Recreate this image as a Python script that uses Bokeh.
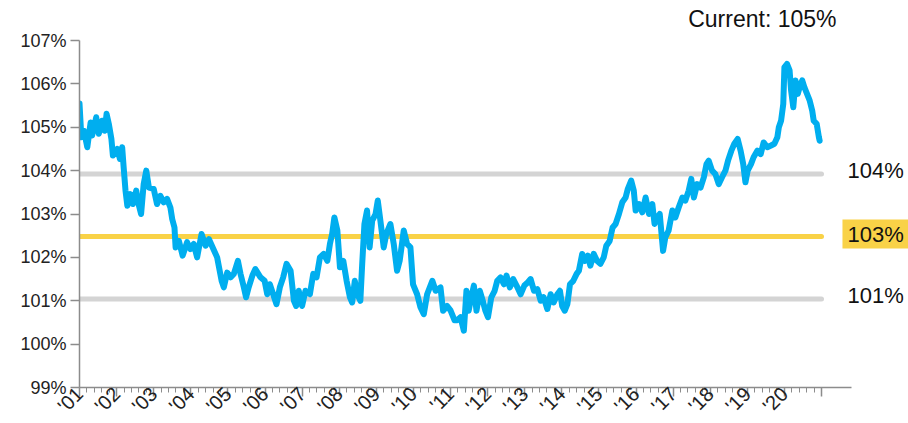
from bokeh.plotting import figure
from bokeh.models import FixedTicker, Label, Range1d
from bokeh.embed import file_html
from bokeh.resources import INLINE

# Series (decimal year, level in %)
t = [2001.00, 2001.05, 2001.12, 2001.21, 2001.30, 2001.34, 2001.45, 2001.52, 2001.61, 2001.68,
     2001.73, 2001.79, 2001.86, 2001.90, 2002.02, 2002.09, 2002.15, 2002.19, 2002.24, 2002.29,
     2002.37, 2002.44, 2002.53, 2002.58, 2002.66, 2002.73, 2002.80, 2002.87, 2003.00, 2003.09,
     2003.18, 2003.27, 2003.36, 2003.45, 2003.50, 2003.56, 2003.59, 2003.68, 2003.78, 2003.90,
     2003.99, 2004.08, 2004.17, 2004.29, 2004.40, 2004.49, 2004.59, 2004.71, 2004.83, 2004.89,
     2004.98, 2005.07, 2005.16, 2005.27, 2005.34, 2005.43, 2005.49, 2005.56, 2005.66, 2005.74,
     2005.87, 2005.99, 2006.06, 2006.13, 2006.22, 2006.31, 2006.40, 2006.49, 2006.58, 2006.69,
     2006.78, 2006.84, 2006.91, 2007.00, 2007.09, 2007.21, 2007.30, 2007.39, 2007.48, 2007.58,
     2007.68, 2007.75, 2007.81, 2007.87, 2007.95, 2008.02, 2008.11, 2008.20, 2008.29, 2008.35,
     2008.42, 2008.49, 2008.57, 2008.62, 2008.68, 2008.75, 2008.82, 2008.89, 2008.98, 2009.04,
     2009.11, 2009.20, 2009.27, 2009.38, 2009.47, 2009.56, 2009.63, 2009.74, 2009.83, 2009.92,
     2009.99, 2010.10, 2010.19, 2010.28, 2010.37, 2010.51, 2010.60, 2010.73, 2010.80, 2010.91,
     2011.00, 2011.11, 2011.18, 2011.27, 2011.36, 2011.43, 2011.49, 2011.56, 2011.63, 2011.70,
     2011.79, 2011.87, 2011.94, 2012.01, 2012.10, 2012.19, 2012.26, 2012.35, 2012.44, 2012.51,
     2012.60, 2012.69, 2012.78, 2012.89, 2012.99, 2013.08, 2013.16, 2013.25, 2013.34, 2013.43,
     2013.51, 2013.61, 2013.70, 2013.78, 2013.88, 2013.95, 2014.01, 2014.08, 2014.15, 2014.22,
     2014.31, 2014.40, 2014.46, 2014.55, 2014.62, 2014.70, 2014.77, 2014.86, 2014.95, 2015.04,
     2015.13, 2015.20, 2015.29, 2015.37, 2015.45, 2015.54, 2015.63, 2015.72, 2015.78, 2015.87,
     2015.94, 2015.99, 2016.08, 2016.17, 2016.26, 2016.35, 2016.44, 2016.50, 2016.57, 2016.64,
     2016.68, 2016.73, 2016.79, 2016.88, 2016.98, 2017.06, 2017.15, 2017.25, 2017.33, 2017.42,
     2017.49, 2017.56, 2017.65, 2017.74, 2017.83, 2017.90, 2017.96, 2018.05, 2018.14, 2018.23,
     2018.32, 2018.41, 2018.48, 2018.57, 2018.65, 2018.74, 2018.82, 2018.89, 2018.95, 2019.01,
     2019.10, 2019.17, 2019.27, 2019.36, 2019.44, 2019.54, 2019.64, 2019.73, 2019.81, 2019.85,
     2019.91, 2019.97, 2020.00, 2020.07, 2020.14, 2020.18, 2020.24, 2020.30, 2020.36, 2020.41,
     2020.48, 2020.54, 2020.61, 2020.68, 2020.75, 2020.79, 2020.87, 2020.93, 2020.95]
v = [105.55, 104.77, 104.92, 104.54, 105.11, 104.81, 105.23, 104.85, 105.15, 104.92,
     105.31, 105.08, 104.73, 104.35, 104.50, 104.27, 104.54, 104.08, 103.54, 103.19,
     103.46, 103.23, 103.54, 103.27, 103.00, 103.69, 104.00, 103.61, 103.58, 103.23,
     103.42, 103.27, 103.35, 103.15, 102.88, 102.69, 102.23, 102.38, 102.04, 102.35,
     102.19, 102.31, 102.00, 102.54, 102.27, 102.42, 102.23, 102.00, 101.46, 101.31,
     101.65, 101.54, 101.62, 101.92, 101.62, 101.31, 101.08, 101.31, 101.58, 101.73,
     101.55, 101.46, 101.15, 101.38, 101.15, 100.92, 101.31, 101.54, 101.85, 101.69,
     101.00, 100.88, 101.23, 100.88, 101.23, 101.15, 101.62, 101.54, 102.00, 102.08,
     101.92, 102.31, 102.54, 102.92, 102.62, 101.77, 101.92, 101.46, 101.08, 100.96,
     101.46, 101.15, 101.00, 101.85, 102.77, 103.08, 102.23, 102.85, 103.00, 103.31,
     102.85, 102.23, 102.54, 102.77, 102.31, 101.69, 101.92, 102.62, 102.31, 102.23,
     101.38, 101.15, 100.85, 100.69, 101.15, 101.46, 101.23, 101.31, 100.77, 100.88,
     100.78, 100.55, 100.55, 100.62, 100.31, 101.23, 100.77, 101.08, 101.35, 100.77,
     101.23, 101.00, 100.77, 100.62, 101.08, 101.23, 101.46, 101.54, 101.38, 101.58,
     101.31, 101.50, 101.35, 101.15, 101.35, 101.42, 101.50, 101.23, 101.27, 101.00,
     101.08, 100.81, 101.15, 100.96, 101.15, 101.23, 100.88, 100.77, 100.92, 101.38,
     101.46, 101.62, 101.69, 102.08, 101.92, 102.04, 101.81, 102.08, 101.92, 101.85,
     102.00, 102.27, 102.38, 102.69, 102.77, 103.00, 103.27, 103.38, 103.58, 103.77,
     103.54, 103.08, 103.23, 103.04, 103.38, 103.00, 103.23, 102.77, 102.92, 103.00,
     102.62, 102.15, 102.46, 102.62, 103.08, 102.92, 103.15, 103.38, 103.31, 103.54,
     103.81, 103.38, 103.69, 103.61, 103.85, 104.15, 104.23, 104.00, 103.92, 103.69,
     103.85, 104.00, 104.23, 104.46, 104.62, 104.73, 104.46, 104.15, 103.73, 104.00,
     104.15, 104.31, 104.46, 104.38, 104.65, 104.54, 104.58, 104.62, 104.77, 105.00,
     105.15, 105.54, 106.38, 106.46, 106.31, 105.85, 105.46, 106.08, 105.77, 105.92,
     106.08, 105.92, 105.77, 105.62, 105.38, 105.15, 105.08, 104.77, 104.69]

# Reference levels (upper band, average, lower band)
band_values = [103.92, 102.48, 101.04]
band_labels = ["104%", "103%", "101%"]
band_colors = ["#D4D4D4", "#F9D247", "#D4D4D4"]
band_start = 2001.0
band_end = 2021.0

current_text = "Current: 105%"

year_ticks = list(range(2001, 2022))
year_labels = ["'01", "'02", "'03", "'04", "'05", "'06", "'07", "'08", "'09", "'10",
               "'11", "'12", "'13", "'14", "'15", "'16", "'17", "'18", "'19", "'20", ""]
y_ticks = [99, 100, 101, 102, 103, 104, 105, 106, 107]
y_labels = ["99%", "100%", "101%", "102%", "103%", "104%", "105%", "106%", "107%"]

FONT = "Liberation Sans"
AXIS_COLOR = "#8C8C8C"
PX_PER_YEAR = 37.1
PX_PER_PCT = 43.33

p = figure(frame_width=829, frame_height=387,
           x_range=Range1d(2001.0, 2023.345), y_range=Range1d(99, 107.923),
           output_backend="svg", toolbar_location=None,
           min_border_left=79, min_border_top=0, min_border_right=0, min_border_bottom=36)
p.outline_line_color = None
p.xgrid.visible = False
p.ygrid.visible = False
p.background_fill_color = "white"
p.border_fill_color = "white"

# Axes
minor = [2001 + k * 0.2 for k in range(0, 101)]
p.xaxis.ticker = FixedTicker(ticks=year_ticks, minor_ticks=minor)
p.xaxis.major_label_overrides = {yr: lab for yr, lab in zip(year_ticks, year_labels)}
p.xaxis.major_label_orientation = 0.785
p.xaxis.bounds = (2001.0, 2021.81)
p.yaxis.ticker = FixedTicker(ticks=y_ticks, minor_ticks=[])
p.yaxis.major_label_overrides = {yy: lab for yy, lab in zip(y_ticks, y_labels)}
p.yaxis.bounds = (99, 107)
for ax in (p.xaxis[0], p.yaxis[0]):
    ax.axis_line_color = AXIS_COLOR
    ax.axis_line_width = 1.5
    ax.major_tick_line_color = AXIS_COLOR
    ax.major_tick_line_width = 1.5
    ax.minor_tick_line_color = AXIS_COLOR
    ax.minor_tick_line_width = 1
    ax.major_label_text_font = FONT
    ax.major_label_text_color = "#222222"
p.yaxis.major_label_text_font_size = "18px"
p.yaxis.major_tick_in = 0
p.yaxis.major_tick_out = 9
p.yaxis.major_label_standoff = 4
p.xaxis.major_label_text_font_size = "20px"
p.xaxis.major_tick_in = 0
p.xaxis.major_tick_out = 9
p.xaxis.minor_tick_in = 0
p.xaxis.minor_tick_out = 5
p.xaxis.major_label_standoff = -6

# Reference lines
for val, col in zip(band_values, band_colors):
    p.line([band_start, band_end], [val, val], line_color=col, line_width=5, line_cap="round")

# Series
p.line(t, v, line_color="#00AEEF", line_width=6, line_join="round", line_cap="round")

# Right-side labels (text sits a few pixels above its line, as in the source)
for val, lab, col in zip(band_values, band_labels, band_colors):
    kw = {}
    lx = 2021.70
    ly = val + 3.5 / PX_PER_PCT
    if col == "#F9D247":
        kw = dict(background_fill_color=col, padding=dict(left=5, right=8, top=2, bottom=2))
        lx = 2021.70 - 5 / PX_PER_YEAR
        ly = val + 2.5 / PX_PER_PCT
    p.add_layout(Label(x=lx, y=ly, text=lab, text_font=FONT, text_font_size="22px",
                       text_align="left", text_baseline="middle", text_color="#111111", **kw))

p.add_layout(Label(x=2021.404, y=107.485, text=current_text, text_font=FONT,
                   text_font_size="23px", text_align="right", text_baseline="middle",
                   text_color="#111111"))

open("out.html", "w").write(file_html(p, INLINE))
